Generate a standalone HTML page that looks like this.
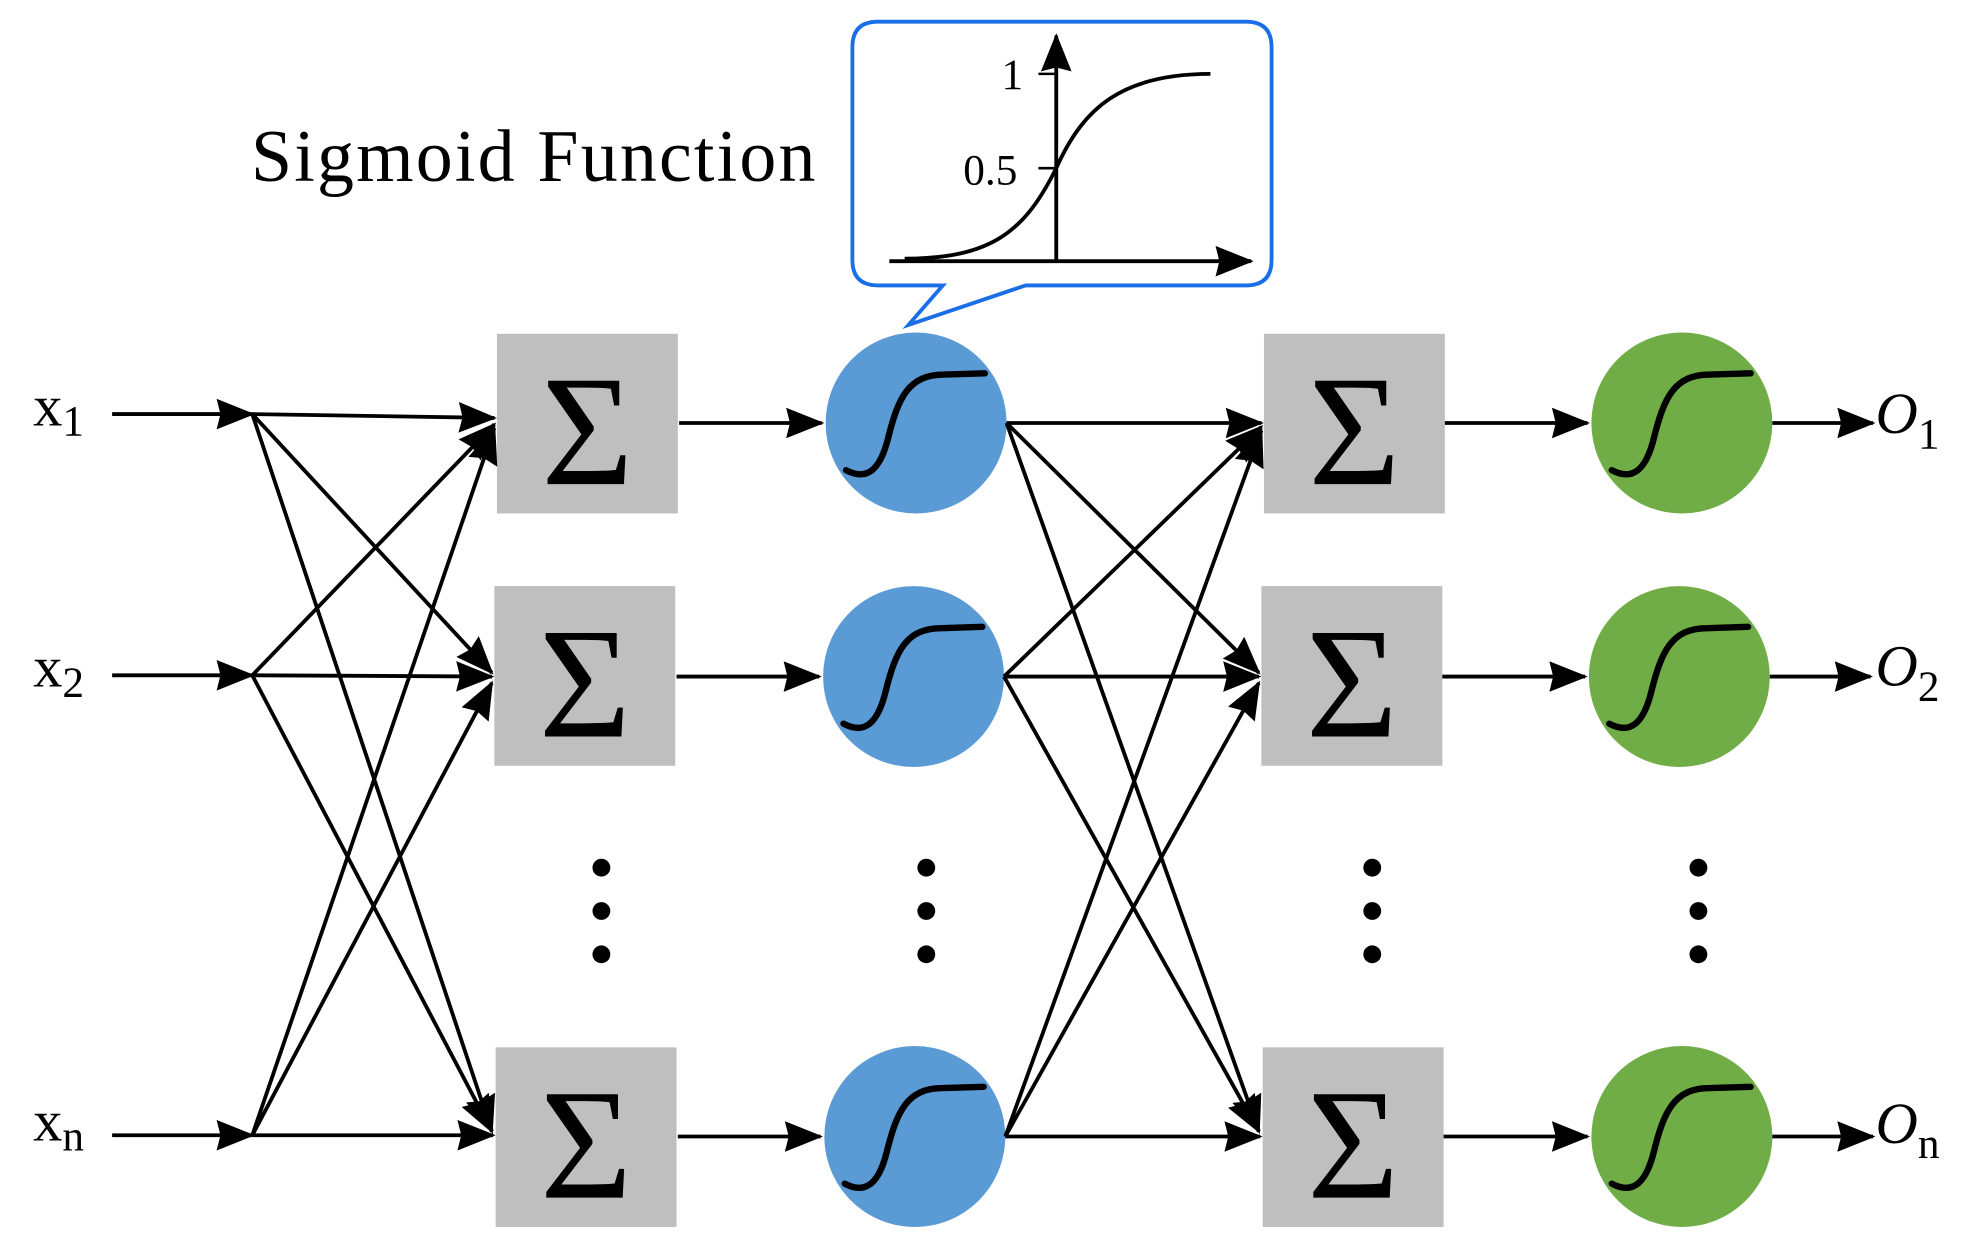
<!DOCTYPE html>
<html><head><meta charset="utf-8"><style>html,body{margin:0;padding:0;background:#fff}svg{display:block}</style></head>
<body>
<svg width="1980" height="1248" viewBox="0 0 1554 979.5" preserveAspectRatio="none" xmlns="http://www.w3.org/2000/svg">
<defs>
<marker id="ar" viewBox="0 0 30 24" refX="28" refY="12" markerWidth="30" markerHeight="24" orient="auto" markerUnits="userSpaceOnUse"><path d="M0,0 L30,12 L0,24 L3,12 Z" fill="#000"/></marker>
<g id="sig"><path d="M-55,37 C-38,46 -28,36 -22,12 C-14,-20 -6,-38 22,-38 L54,-39" fill="none" stroke="#000" stroke-width="5" stroke-linecap="round"/></g>
<g id="box"><rect x="0" y="0" width="142" height="141" fill="#bfbfbf"/><text x="71" y="118" font-family="Liberation Serif, serif" font-size="124" text-anchor="middle">Σ</text></g>
</defs>
<g font-family="Liberation Serif, serif">
<text x="197" y="142" font-size="58" textLength="443">Sigmoid Function</text>
<path d="M690,17 H978 Q998,17 998,37 V204 Q998,224 978,224 H805 L713,255 L740,224 H689 Q669,224 669,204 V37 Q669,17 689,17 Z" fill="#fff" stroke="#1a6ee8" stroke-width="3"/>
<line x1="829" y1="205" x2="829" y2="28" stroke="#000" stroke-width="3" marker-end="url(#ar)"/>
<line x1="698" y1="205" x2="982" y2="205" stroke="#000" stroke-width="3" marker-end="url(#ar)"/>
<path d="M710,203 C780,203 805,180 829,132 C850,85 880,58 950,58" fill="none" stroke="#000" stroke-width="3"/>
<line x1="815" y1="58" x2="829" y2="58" stroke="#000" stroke-width="2"/>
<line x1="815" y1="132" x2="829" y2="132" stroke="#000" stroke-width="2"/>
<text x="786" y="70" font-size="34">1</text>
<text x="756" y="145" font-size="34">0.5</text>

<g font-size="46">
<text x="26" y="334">x<tspan font-size="34" dy="8">1</tspan></text>
<text x="26" y="539">x<tspan font-size="34" dy="8">2</tspan></text>
<text x="26" y="895">x<tspan font-size="34" dy="8">n</tspan></text>
<text x="1472" y="340" font-style="italic">O<tspan font-size="34" font-style="normal" dy="12">1</tspan></text>
<text x="1472" y="538" font-style="italic">O<tspan font-size="34" font-style="normal" dy="12">2</tspan></text>
<text x="1472" y="897" font-style="italic">O<tspan font-size="34" font-style="normal" dy="12">n</tspan></text>
</g>
</g>

<use href="#box" x="390" y="262"/><use href="#box" x="388" y="460"/><use href="#box" x="389" y="822"/>
<use href="#box" x="992" y="262"/><use href="#box" x="990" y="460"/><use href="#box" x="991" y="822"/>

<g fill="#5b9bd5"><circle cx="719" cy="332" r="71"/><circle cx="717" cy="531" r="71"/><circle cx="718" cy="892" r="71"/></g>
<g fill="#70ad47"><circle cx="1320" cy="332" r="71"/><circle cx="1318" cy="531" r="71"/><circle cx="1320" cy="892" r="71"/></g>
<use href="#sig" x="719" y="332"/><use href="#sig" x="717" y="531"/><use href="#sig" x="718" y="892"/>
<use href="#sig" x="1320" y="332"/><use href="#sig" x="1318" y="531"/><use href="#sig" x="1320" y="892"/>

<g stroke="#000" stroke-width="3" fill="none" marker-end="url(#ar)">
<line x1="88" y1="325" x2="198" y2="325"/>
<line x1="88" y1="530" x2="198" y2="530"/>
<line x1="88" y1="891" x2="198" y2="891"/>
<line x1="198" y1="325" x2="388" y2="328"/>
<line x1="198" y1="325" x2="386" y2="528"/>
<line x1="198" y1="325" x2="386" y2="888"/>
<line x1="198" y1="530" x2="388" y2="333"/>
<line x1="198" y1="530" x2="386" y2="531"/>
<line x1="198" y1="530" x2="386" y2="888"/>
<line x1="198" y1="891" x2="388" y2="336"/>
<line x1="198" y1="891" x2="386" y2="536"/>
<line x1="198" y1="891" x2="387" y2="891"/>
<line x1="533" y1="332" x2="645" y2="332"/>
<line x1="531" y1="531" x2="643" y2="531"/>
<line x1="532" y1="892" x2="644" y2="892"/>
<line x1="790" y1="332" x2="990" y2="332"/>
<line x1="790" y1="332" x2="988" y2="528"/>
<line x1="790" y1="332" x2="988" y2="888"/>
<line x1="788" y1="531" x2="990" y2="335"/>
<line x1="788" y1="531" x2="988" y2="531"/>
<line x1="788" y1="531" x2="988" y2="888"/>
<line x1="789" y1="892" x2="990" y2="338"/>
<line x1="789" y1="892" x2="988" y2="536"/>
<line x1="789" y1="892" x2="989" y2="892"/>
<line x1="1134" y1="332" x2="1246" y2="332"/>
<line x1="1132" y1="531" x2="1244" y2="531"/>
<line x1="1133" y1="892" x2="1246" y2="892"/>
<line x1="1391" y1="332" x2="1470" y2="332"/>
<line x1="1389" y1="531" x2="1468" y2="531"/>
<line x1="1391" y1="892" x2="1470" y2="892"/>
</g>

<g fill="#000">
<circle cx="472" cy="681" r="7"/><circle cx="472" cy="715" r="7"/><circle cx="472" cy="749" r="7"/>
<circle cx="727" cy="681" r="7"/><circle cx="727" cy="715" r="7"/><circle cx="727" cy="749" r="7"/>
<circle cx="1077" cy="681" r="7"/><circle cx="1077" cy="715" r="7"/><circle cx="1077" cy="749" r="7"/>
<circle cx="1333" cy="681" r="7"/><circle cx="1333" cy="715" r="7"/><circle cx="1333" cy="749" r="7"/>
</g>
</svg>
</body></html>
